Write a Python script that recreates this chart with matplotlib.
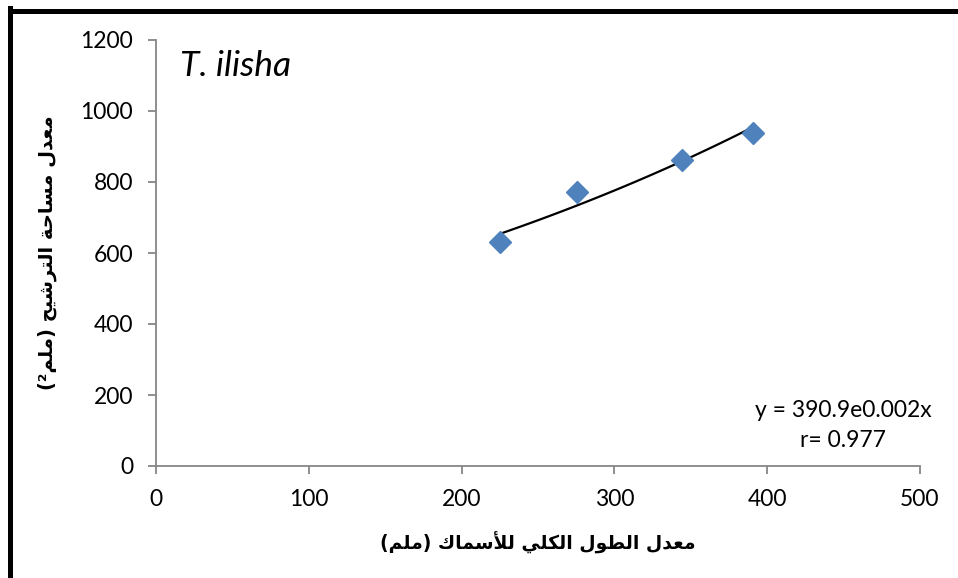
import numpy as np
import matplotlib
matplotlib.use("Agg")
import matplotlib.pyplot as plt
from matplotlib.lines import Line2D

# ---- data ----
fish_length = [225, 275.5, 344, 390.5]       # mean total length (mm)
filter_area = [631, 771, 862, 937]           # mean filtration area (mm^2)
x_ticks = [0, 100, 200, 300, 400, 500]
y_ticks = [0, 200, 400, 600, 800, 1000, 1200]
species = "T. ilisha"
equation = "y = 390.9e0.002x"
r_text = "r= 0.977"
x_label = "معدل الطول الكلي للأسماك (ملم)"
y_label = "معدل مساحة الترشيح (ملم²)"

# ---- minimal Arabic shaping (presentation forms + visual order) ----
FORMS = {  # isolated, final, initial, medial
    'ا': ('\uFE8D', '\uFE8E', None, None),
    'أ': ('\uFE83', '\uFE84', None, None),
    'ت': ('\uFE95', '\uFE96', '\uFE97', '\uFE98'),
    'ة': ('\uFE93', '\uFE94', None, None),
    'ح': ('\uFEA1', '\uFEA2', '\uFEA3', '\uFEA4'),
    'د': ('\uFEA9', '\uFEAA', None, None),
    'ر': ('\uFEAD', '\uFEAE', None, None),
    'س': ('\uFEB1', '\uFEB2', '\uFEB3', '\uFEB4'),
    'ش': ('\uFEB5', '\uFEB6', '\uFEB7', '\uFEB8'),
    'ط': ('\uFEC1', '\uFEC2', '\uFEC3', '\uFEC4'),
    'ع': ('\uFEC9', '\uFECA', '\uFECB', '\uFECC'),
    'ك': ('\uFED9', '\uFEDA', '\uFEDB', '\uFEDC'),
    'ل': ('\uFEDD', '\uFEDE', '\uFEDF', '\uFEE0'),
    'م': ('\uFEE1', '\uFEE2', '\uFEE3', '\uFEE4'),
    'و': ('\uFEED', '\uFEEE', None, None),
    'ي': ('\uFEF1', '\uFEF2', '\uFEF3', '\uFEF4'),
}
LAMALEF = {'ا': ('\uFEFB', '\uFEFC'), 'أ': ('\uFEF7', '\uFEF8')}


def shape(text):
    chars = list(text)
    units = []
    i = 0
    while i < len(chars):
        c = chars[i]
        if c == 'ل' and i + 1 < len(chars) and chars[i + 1] in LAMALEF:
            units.append(('LA', chars[i + 1]))
            i += 2
        else:
            units.append((c, None))
            i += 1

    def joins_left(u):
        c, _ = u
        if c == 'LA':
            return False
        f = FORMS.get(c)
        return f is not None and f[2] is not None

    def joins_right(u):
        c, _ = u
        return c == 'LA' or c in FORMS

    out = []
    for k, u in enumerate(units):
        c, a = u
        prev = units[k - 1] if k > 0 else None
        nxt = units[k + 1] if k + 1 < len(units) else None
        jp = prev is not None and joins_left(prev) and joins_right(u)
        jn = nxt is not None and joins_left(u) and joins_right(nxt)
        if c == 'LA':
            out.append(LAMALEF[a][1 if jp else 0])
        elif c in FORMS:
            f = FORMS[c]
            if jp and jn:
                out.append(f[3])
            elif jp:
                out.append(f[1])
            elif jn:
                out.append(f[2])
            else:
                out.append(f[0])
        else:
            out.append(c)
    vis = ''.join(reversed(out))
    return vis.translate(str.maketrans('()', ')('))


# ---- figure ----
W, H = 958, 578
fig = plt.figure(figsize=(W / 100, H / 100), dpi=100)
ax = fig.add_axes([156 / W, 1 - 466 / H, (920 - 156) / W, (466 - 40) / H])

axis_gray = '#868686'
tick_font = 'Lato'
tick_size = 16.5

# trendline: exponential fit
b, ln_a = np.polyfit(np.array(fish_length), np.log(np.array(filter_area)), 1)
xs = np.linspace(min(fish_length), max(fish_length), 100)
ax.plot(xs, np.exp(ln_a) * np.exp(b * xs), color='black', lw=1.6, zorder=2)

ax.plot(fish_length, filter_area, linestyle='none', marker='D', markersize=11,
        color='#4F81BD', markeredgecolor='#4F81BD', zorder=3, clip_on=False)

ax.set_xlim(0, 500)
ax.set_ylim(0, 1200)
ax.set_xticks(x_ticks)
ax.set_yticks(y_ticks)
ax.set_xticklabels([str(v) for v in x_ticks], fontname=tick_font, fontsize=tick_size)
ax.set_yticklabels([str(v) for v in y_ticks], fontname=tick_font, fontsize=tick_size)

for s in ['top', 'right']:
    ax.spines[s].set_visible(False)
for s in ['left', 'bottom']:
    ax.spines[s].set_color(axis_gray)
    ax.spines[s].set_linewidth(1.3)
ax.tick_params(axis='both', direction='out', length=5.5, width=1.3,
               color=axis_gray, pad=11, labelcolor='black')

ax.set_xlabel(shape(x_label), fontname='DejaVu Sans', fontweight='bold',
              fontsize=13.5, labelpad=16)
ax.set_ylabel(shape(y_label), fontname='DejaVu Sans', fontweight='bold',
              fontsize=14, labelpad=17)

ax.text(0.031, 0.94, species, transform=ax.transAxes, fontname='Lato',
        style='italic', fontsize=25.5, ha='left', va='center')
ax.text(0.899, 0.131, equation, transform=ax.transAxes, fontname=tick_font,
        fontsize=16.5, ha='center', va='center')
ax.text(0.899, 0.061, r_text, transform=ax.transAxes, fontname=tick_font,
        fontsize=16.5, ha='center', va='center')

# outer frame (left and top edges visible)
fig.add_artist(Line2D([9.5 / W, 9.5 / W], [0, 1 - 8 / H], transform=fig.transFigure,
                      color='black', lw=3.6, solid_capstyle='projecting'))
fig.add_artist(Line2D([9.5 / W, 1], [1 - 10.5 / H, 1 - 10.5 / H], transform=fig.transFigure,
                      color='black', lw=3.6, solid_capstyle='projecting'))

fig.savefig('out.png', dpi=100, facecolor='white')
